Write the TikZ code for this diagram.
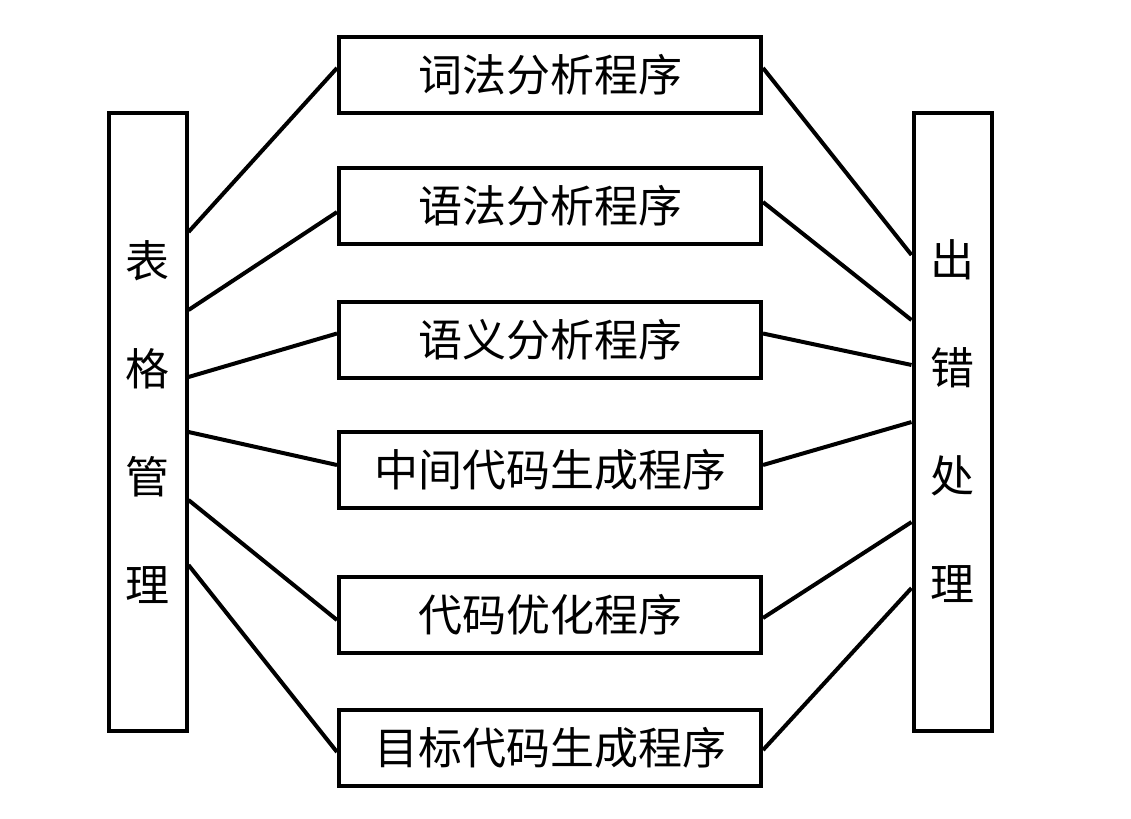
\documentclass[tikz,border=0pt]{standalone}
\usepackage{fontspec}
\newfontfamily\cjk{Noto Sans CJK SC}
\usetikzlibrary{positioning}
\tikzset{
	prog/.style={draw, line width=3pt, minimum width=316.5pt, minimum height=57pt, inner sep=0pt, font=\cjk\fontsize{33}{40}\selectfont},
	side/.style={draw, line width=3pt, minimum width=58.5pt, minimum height=463.5pt, inner sep=0pt, align=center, font=\cjk\fontsize{33}{81}\selectfont},
	link/.style={line width=3pt}
}

\begin{document}
\begin{tikzpicture}[x=0.75pt, y=-0.75pt]
	\useasboundingbox (0,0) rectangle (1131,818);
	% side boxes
	\node[side] (tab) at (147.5,422) {表\\格\\管\\理};
	\node[side] (err) at (952.5,421.5) {出\\错\\处\\理};
	% compiler phases
	\node[prog] (lex) at (550,74.5) {词法分析程序};
	\node[prog] (syn) at (550,205.5) {语法分析程序};
	\node[prog] (sem) at (550,339.5) {语义分析程序};
	\node[prog] (mid) at (550,470) {中间代码生成程序};
	\node[prog] (opt) at (550,615) {代码优化程序};
	\node[prog] (gen) at (550,747.5) {目标代码生成程序};
	% links: node / left shift / phase west / phase east / right shift
	\foreach \p/\a/\b/\c/\d in {lex/142.5/4.9/4.9/124.9, syn/84/-4.9/2.6/76.1,
		sem/33.75/4.5/4.5/42.4, mid/-7.5/3.75/3.75/-0.4,
		opt/-58.5/-3.75/-2.25/-75.4, gen/-107.25/-3.4/-1.9/-124.9}{
		\draw[link] ([yshift=\a pt]tab.east) -- ([yshift=\b pt]\p.west);
		\draw[link] ([yshift=\c pt]\p.east) -- ([yshift=\d pt]err.west);
	}
\end{tikzpicture}
\end{document}
